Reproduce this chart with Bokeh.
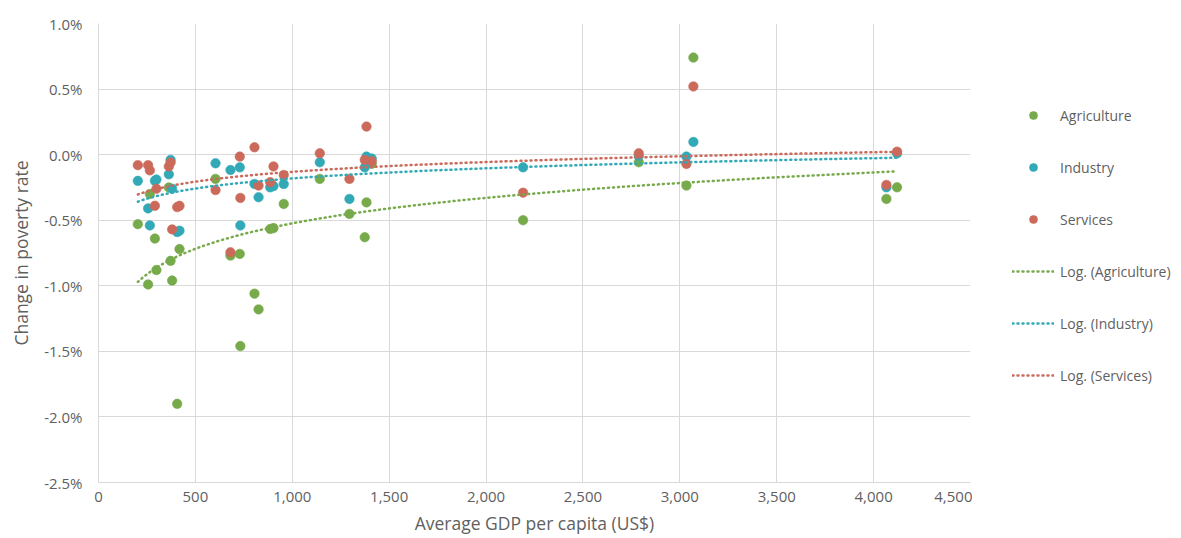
from bokeh.plotting import figure
from bokeh.layouts import row
from bokeh.models import (Range1d, FixedTicker, PrintfTickFormatter, NumeralTickFormatter,
                          Legend, LegendItem, ColumnDataSource)
from bokeh.embed import file_html
from bokeh.resources import INLINE
import numpy as np

# GDP per capita (US$) per country
gdp = [203, 256, 265, 291, 299, 363, 372, 380, 406, 418,
       604, 681, 729, 732, 805, 826, 886, 903, 956, 1142,
       1295, 1374, 1383, 1410, 2191, 2788, 3034, 3070, 4066, 4121]
# change in poverty rate (%) attributed to each sector's growth
agriculture = [-0.53, -0.99, -0.30, -0.64, -0.88, -0.25, -0.81, -0.96, -1.90, -0.72,
               -0.185, -0.77, -0.757, -1.46, -1.06, -1.18, -0.567, -0.56, -0.376, -0.185,
               -0.452, -0.63, -0.364, -0.07, -0.50, -0.058, -0.236, 0.74, -0.338, -0.249]
industry = [-0.20, -0.41, -0.54, -0.20, -0.19, -0.15, -0.04, -0.26, -0.59, -0.58,
            -0.066, -0.117, -0.097, -0.54, -0.224, -0.325, -0.249, -0.24, -0.224, -0.058,
            -0.338, -0.097, -0.015, -0.03, -0.097, -0.01, -0.015, 0.097, -0.249, 0.01]
services = [-0.08, -0.08, -0.12, -0.39, -0.26, -0.09, -0.06, -0.57, -0.40, -0.39,
            -0.27, -0.745, -0.015, -0.33, 0.056, -0.236, -0.21, -0.09, -0.155, 0.01,
            -0.185, -0.04, 0.214, -0.05, -0.29, 0.01, -0.071, 0.52, -0.231, 0.023]

series_names = ["Agriculture", "Industry", "Services"]
x_ticks = [0, 500, 1000, 1500, 2000, 2500, 3000, 3500, 4000, 4500]
y_ticks = [-2.5, -2.0, -1.5, -1.0, -0.5, 0.0, 0.5, 1.0]

colors = ["#77aa4a", "#31a9b6", "#cb6a5b"]
FONT = "Open Sans"
TXT = "#5f5f5f"
GRID = "#d9d9d9"

p = figure(width=972, height=538, output_backend="svg", toolbar_location=None,
           x_range=Range1d(0, 4500), y_range=Range1d(-2.5, 1.0),
           min_border_left=98, min_border_right=2, min_border_top=23, min_border_bottom=56)
p.outline_line_color = None
p.background_fill_color = "white"

p.xaxis.ticker = FixedTicker(ticks=x_ticks)
p.yaxis.ticker = FixedTicker(ticks=y_ticks)
p.xaxis.formatter = NumeralTickFormatter(format="0,0")
p.yaxis.formatter = PrintfTickFormatter(format="%.1f%%")
for ax in (p.xaxis[0], p.yaxis[0]):
    ax.axis_line_color = GRID
    ax.major_tick_line_color = None
    ax.minor_tick_line_color = None
    ax.major_label_text_font = FONT
    ax.major_label_text_font_size = "15px"
    ax.major_label_text_color = TXT
    ax.axis_label_text_font = FONT
    ax.axis_label_text_font_size = "17.5px"
    ax.axis_label_text_color = TXT
    ax.axis_label_text_font_style = "normal"
p.xaxis.axis_label = "Average GDP per capita (US$)"
p.yaxis.axis_label = "Change in poverty rate"
p.xaxis.major_label_standoff = 3
p.yaxis.major_label_standoff = 10
p.xaxis.axis_label_standoff = 6
p.yaxis.axis_label_standoff = 8
p.xgrid.grid_line_color = GRID
p.ygrid.grid_line_color = GRID

data = [agriculture, industry, services]
gx = np.array(gdp, dtype=float)
for name, vals, c in zip(series_names, data, colors):
    src = ColumnDataSource(dict(x=gdp, y=vals))
    p.scatter("x", "y", source=src, size=9.5, fill_color=c, line_color=c, line_alpha=0.6)
for name, vals, c in zip(series_names, data, colors):
    b, a = np.polyfit(np.log(gx), np.array(vals), 1)
    xs = np.linspace(gx.min(), gx.max(), 200)
    p.line(xs, a + b * np.log(xs), line_color=c, line_width=2.5, line_dash="1 4",
           line_cap="round")

# legend panel (separate figure so the legend sits outside the plot frame)
lg = figure(width=209, height=538, output_backend="svg", toolbar_location=None,
            x_axis_type=None, y_axis_type=None, x_range=Range1d(0, 1), y_range=Range1d(0, 1),
            min_border_left=0, min_border_right=0, min_border_top=0, min_border_bottom=0)
lg.outline_line_color = None
lg.xgrid.visible = False
lg.ygrid.visible = False
items = []
for name, c in zip(series_names, colors):
    r = lg.scatter([-5], [-5], size=7.5, fill_color=c, line_color=c, line_alpha=0.6)
    items.append(LegendItem(label=name, renderers=[r]))
for name, c in zip(series_names, colors):
    r = lg.line([-5, -4], [-5, -4], line_color=c, line_width=2.5, line_dash="1 4",
                line_cap="round")
    items.append(LegendItem(label="Log. (" + name + ")", renderers=[r]))
legend = Legend(items=items, location=(40, 97), orientation="vertical",
                glyph_width=42, glyph_height=20, label_height=20, spacing=32,
                label_standoff=6, padding=0, margin=0,
                label_text_font=FONT, label_text_font_size="14px", label_text_color=TXT,
                border_line_color=None, background_fill_alpha=0)
lg.add_layout(legend, "center")

layout = row(p, lg)
open("out.html", "w").write(file_html(layout, INLINE))
